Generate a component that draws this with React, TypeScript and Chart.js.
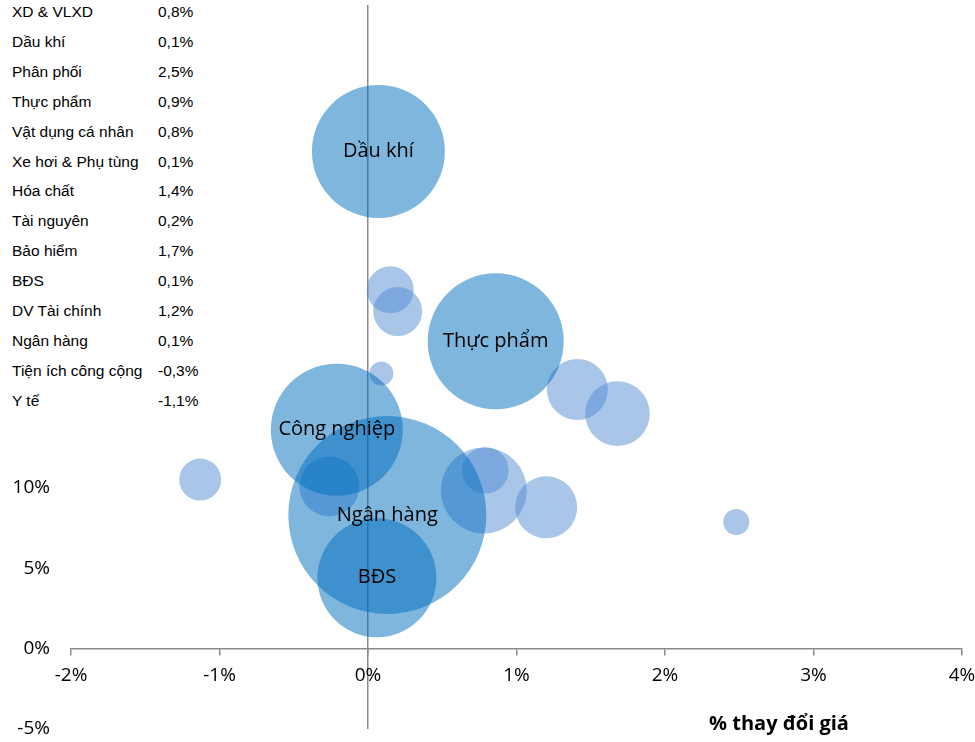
import React, { useEffect, useRef } from "react";
import { Chart, registerables } from "chart.js";

Chart.register(...registerables);

// Side table (sector, price change)
const tableNames = [
  "XD & VLXD",
  "Dầu khí",
  "Phân phối",
  "Thực phẩm",
  "Vật dụng cá nhân",
  "Xe hơi & Phụ tùng",
  "Hóa chất",
  "Tài nguyên",
  "Bảo hiểm",
  "BĐS",
  "DV Tài chính",
  "Ngân hàng",
  "Tiện ích công cộng",
  "Y tế",
];
const tableValues = [
  "0,8%", "0,1%", "2,5%", "0,9%", "0,8%", "0,1%", "1,4%",
  "0,2%", "1,7%", "0,1%", "1,2%", "0,1%", "-0,3%", "-1,1%",
];

// Labelled (large) bubbles
const majorNames = ["Dầu khí", "Thực phẩm", "Công nghiệp", "Ngân hàng", "BĐS"];
const majorX = [0.07, 0.86, -0.21, 0.13, 0.06];
const majorY = [30.9, 19.1, 13.6, 8.3, 4.4];
const majorSize = [66.5, 68, 66, 99, 59.5];

// Unlabelled (small) bubbles
const minorX = [0.15, 0.2, 0.09, 1.41, 1.68, 0.78, 0.79, 1.2, -0.26, -1.13, 2.48];
const minorY = [22.3, 20.95, 17.1, 16.1, 14.6, 9.83, 11.07, 8.78, 10.08, 10.5, 7.87];
const minorSize = [23.5, 24.5, 12, 30.5, 32.3, 43, 23.3, 31, 30, 21, 13];

const xMin = -2;
const xMax = 4;
const yMin = -5;
const yMax = 40;
const yStep = 5;
const xTitle = "% thay đổi giá";

const AXIS = "#8a8a8a";
const FONT = '"Open Sans", "Noto Sans", sans-serif';

const labelPlugin = {
  id: "bubbleLabels",
  afterDatasetsDraw(chart: any) {
    const meta = chart.getDatasetMeta(0);
    const ctx = chart.ctx;
    ctx.save();
    ctx.font = `20px ${FONT}`;
    ctx.fillStyle = "#000";
    ctx.textAlign = "center";
    ctx.textBaseline = "middle";
    meta.data.forEach((el: any, i: number) => {
      ctx.fillText(majorNames[i], el.x, el.y);
    });
    ctx.restore();
  },
};

export default function App() {
  const ref = useRef<HTMLCanvasElement | null>(null);

  useEffect(() => {
    if (!ref.current) return;
    const chart = new Chart(ref.current, {
      type: "bubble",
      data: {
        datasets: [
          {
            label: "major",
            data: majorX.map((x, i) => ({ x, y: majorY[i], r: majorSize[i] })),
            backgroundColor: "rgba(0,110,190,0.5)",
            borderWidth: 0,
            hoverBorderWidth: 0,
          },
          {
            label: "minor",
            data: minorX.map((x, i) => ({ x, y: minorY[i], r: minorSize[i] })),
            backgroundColor: "rgba(84,141,212,0.5)",
            borderWidth: 0,
            hoverBorderWidth: 0,
          },
        ],
      },
      options: {
        animation: false,
        responsive: false,
        maintainAspectRatio: false,
        layout: { autoPadding: false, padding: { left: 0, right: 13, top: 5, bottom: 13 } },
        plugins: { legend: { display: false }, tooltip: { enabled: false } },
        scales: {
          x: {
            type: "linear",
            min: xMin,
            max: xMax,
            position: { y: 0 } as any,
            afterFit(scale: any) {
              scale.height = 0;
              scale.paddingLeft = 0;
              scale.paddingRight = 0;
            },
            ticks: {
              stepSize: 1,
              padding: 10,
              color: "#000",
              font: { family: FONT, size: 19 },
              callback: (v: any) => `${v}%`,
            },
            grid: {
              drawOnChartArea: true,
              color: (c: any) => (c.tick && c.tick.value === 0 ? AXIS : "rgba(0,0,0,0)"),
              lineWidth: 1.5,
              tickColor: AXIS,
              tickLength: 6,
            },
            border: { display: true, color: AXIS, width: 1.5 },
          },
          y: {
            type: "linear",
            min: yMin,
            max: yMax,
            position: "left",
            afterFit(scale: any) {
              scale.width = 71;
              scale.paddingTop = 0;
              scale.paddingBottom = 0;
            },
            ticks: {
              stepSize: yStep,
              padding: 21,
              color: "#000",
              font: { family: FONT, size: 19 },
              callback: (v: any) => `${v}%`,
            },
            grid: { display: false, drawTicks: false },
            border: { display: false },
          },
        },
      },
      plugins: [labelPlugin],
    });
    return () => chart.destroy();
  }, []);

  return (
    <div style={{ position: "absolute", left: 0, top: 0, width: 975, height: 742, background: "#fff" }}>
      <canvas ref={ref} width={975} height={742} style={{ display: "block" }} />
      <div
        style={{
          position: "absolute",
          left: 0,
          top: 0,
          width: 205,
          height: 413,
          background: "#fff",
          fontFamily: '"Liberation Sans", Arial, sans-serif',
          fontSize: 15.5,
          color: "#000",
        }}
      >
        {tableNames.map((name, i) => (
          <div
            key={name}
            style={{
              position: "absolute",
              top: 12 + i * 29.9 - 10,
              height: 20,
              lineHeight: "20px",
              left: 0,
              width: 205,
              whiteSpace: "nowrap",
            }}
          >
            <span style={{ position: "absolute", left: 12 }}>{name}</span>
            <span style={{ position: "absolute", left: 158 }}>{tableValues[i]}</span>
          </div>
        ))}
      </div>
      <div
        style={{
          position: "absolute",
          left: 779,
          top: 722,
          transform: "translate(-50%, -50%)",
          fontFamily: FONT,
          fontWeight: 700,
          fontSize: 20,
          whiteSpace: "nowrap",
          color: "#000",
        }}
      >
        {xTitle}
      </div>
    </div>
  );
}
